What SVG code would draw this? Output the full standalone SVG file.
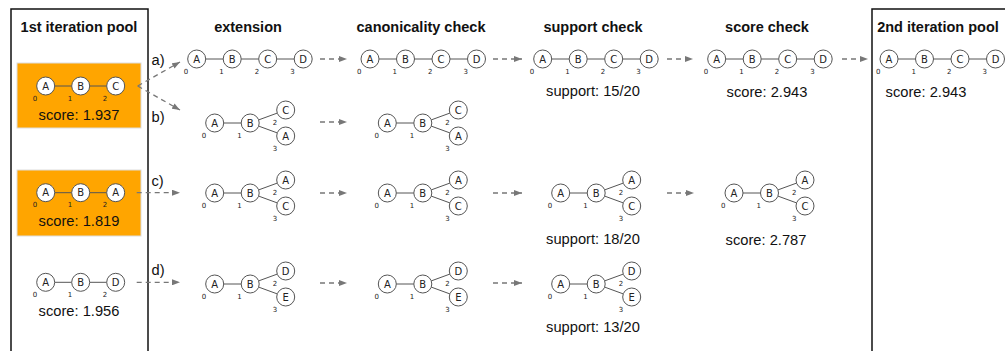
<svg xmlns="http://www.w3.org/2000/svg" width="1005" height="351" viewBox="0 0 1005 351">
<style>
.n{fill:#fff;stroke:#555;stroke-width:1}
.e{stroke:#555;stroke-width:1;fill:none}
.l{font-family:"DejaVu Sans",sans-serif;font-size:10px;fill:#222;text-anchor:middle}
.i{font-family:"DejaVu Sans",sans-serif;font-size:7px;fill:#222;text-anchor:middle}
.h{font-family:"Liberation Sans",Arial,sans-serif;font-size:14.5px;font-weight:bold;fill:#111;text-anchor:middle}
.t{font-family:"Liberation Sans",Arial,sans-serif;font-size:14.7px;fill:#111;text-anchor:middle}
.s{font-family:"Liberation Sans",Arial,sans-serif;font-size:14.7px;fill:#111}
.a{stroke:#777;stroke-width:1.3;stroke-dasharray:5 4;fill:none;marker-end:url(#ah)}
.pool{fill:none;stroke:#111;stroke-width:1.5}
.or{fill:#FFA500;stroke:#ddd;stroke-width:1}
</style>
<defs>
<marker id="ah" markerUnits="userSpaceOnUse" viewBox="0 0 8 6" refX="8" refY="3" markerWidth="8" markerHeight="6" orient="auto">
<path d="M0,0 L8,3 L0,6 z" fill="#777"/>
</marker>
</defs>

<g id="pool1box">
<rect class="pool" x="11" y="9" width="137" height="360"/>
<text class="h" x="79" y="32">1st iteration pool</text>
</g>
<g id="pool2box">
<rect class="pool" x="872" y="9" width="150" height="360"/>
<text class="h" x="938" y="32">2nd iteration pool</text>
</g>

<g id="headers">
<text class="h" x="248" y="32">extension</text>
<text class="h" x="421" y="32">canonicality check</text>
<text class="h" x="593" y="32">support check</text>
<text class="h" x="767" y="32">score check</text>
</g>

<g id="p1">
<rect class="or" x="17" y="63" width="124" height="65"/>
<g transform="translate(45.7,86)">
<line class="e" x1="9" y1="0" x2="26" y2="0"/><line class="e" x1="44" y1="0" x2="61" y2="0"/>
<circle class="n" cx="0" cy="0" r="9"/><circle class="n" cx="35" cy="0" r="9"/><circle class="n" cx="70" cy="0" r="9"/>
<text class="l" x="0" y="3.6">A</text><text class="l" x="35" y="3.6">B</text><text class="l" x="70" y="3.6">C</text>
<text class="i" x="-10.7" y="14.5">0</text><text class="i" x="24.3" y="14.5">1</text><text class="i" x="59.3" y="14.5">2</text>
</g>
<text class="t" x="79" y="119.5">score: 1.937</text>
</g>

<g id="p2">
<rect class="or" x="17" y="170" width="124" height="66"/>
<g transform="translate(45.7,192.7)">
<line class="e" x1="9" y1="0" x2="26" y2="0"/><line class="e" x1="44" y1="0" x2="61" y2="0"/>
<circle class="n" cx="0" cy="0" r="9"/><circle class="n" cx="35" cy="0" r="9"/><circle class="n" cx="70" cy="0" r="9"/>
<text class="l" x="0" y="3.6">A</text><text class="l" x="35" y="3.6">B</text><text class="l" x="70" y="3.6">A</text>
<text class="i" x="-10.7" y="14.5">0</text><text class="i" x="24.3" y="14.5">1</text><text class="i" x="59.3" y="14.5">2</text>
</g>
<text class="t" x="79" y="226">score: 1.819</text>
</g>

<g id="p3">
<g transform="translate(45.7,282.3)">
<line class="e" x1="9" y1="0" x2="26" y2="0"/><line class="e" x1="44" y1="0" x2="61" y2="0"/>
<circle class="n" cx="0" cy="0" r="9"/><circle class="n" cx="35" cy="0" r="9"/><circle class="n" cx="70" cy="0" r="9"/>
<text class="l" x="0" y="3.6">A</text><text class="l" x="35" y="3.6">B</text><text class="l" x="70" y="3.6">D</text>
<text class="i" x="-10.7" y="14.5">0</text><text class="i" x="24.3" y="14.5">1</text><text class="i" x="59.3" y="14.5">2</text>
</g>
<text class="t" x="79" y="316">score: 1.956</text>
</g>

<!-- row a linear graphs -->
<g id="a_ext" transform="translate(196.7,59)">
<line class="e" x1="9" y1="0" x2="26.5" y2="0"/><line class="e" x1="44.5" y1="0" x2="62" y2="0"/><line class="e" x1="80" y1="0" x2="97.5" y2="0"/>
<circle class="n" cx="0" cy="0" r="9"/><circle class="n" cx="35.5" cy="0" r="9"/><circle class="n" cx="71" cy="0" r="9"/><circle class="n" cx="106.5" cy="0" r="9"/>
<text class="l" x="0" y="3.6">A</text><text class="l" x="35.5" y="3.6">B</text><text class="l" x="71" y="3.6">C</text><text class="l" x="106.5" y="3.6">D</text>
<text class="i" x="-10.7" y="14.5">0</text><text class="i" x="24.8" y="14.5">1</text><text class="i" x="60.3" y="14.5">2</text><text class="i" x="95.8" y="14.5">3</text>
</g>
<g id="a_can" transform="translate(370,59)">
<line class="e" x1="9" y1="0" x2="26.5" y2="0"/><line class="e" x1="44.5" y1="0" x2="62" y2="0"/><line class="e" x1="80" y1="0" x2="97.5" y2="0"/>
<circle class="n" cx="0" cy="0" r="9"/><circle class="n" cx="35.5" cy="0" r="9"/><circle class="n" cx="71" cy="0" r="9"/><circle class="n" cx="106.5" cy="0" r="9"/>
<text class="l" x="0" y="3.6">A</text><text class="l" x="35.5" y="3.6">B</text><text class="l" x="71" y="3.6">C</text><text class="l" x="106.5" y="3.6">D</text>
<text class="i" x="-10.7" y="14.5">0</text><text class="i" x="24.8" y="14.5">1</text><text class="i" x="60.3" y="14.5">2</text><text class="i" x="95.8" y="14.5">3</text>
</g>
<g id="a_sup" transform="translate(542.7,59)">
<line class="e" x1="9" y1="0" x2="26.5" y2="0"/><line class="e" x1="44.5" y1="0" x2="62" y2="0"/><line class="e" x1="80" y1="0" x2="97.5" y2="0"/>
<circle class="n" cx="0" cy="0" r="9"/><circle class="n" cx="35.5" cy="0" r="9"/><circle class="n" cx="71" cy="0" r="9"/><circle class="n" cx="106.5" cy="0" r="9"/>
<text class="l" x="0" y="3.6">A</text><text class="l" x="35.5" y="3.6">B</text><text class="l" x="71" y="3.6">C</text><text class="l" x="106.5" y="3.6">D</text>
<text class="i" x="-10.7" y="14.5">0</text><text class="i" x="24.8" y="14.5">1</text><text class="i" x="60.3" y="14.5">2</text><text class="i" x="95.8" y="14.5">3</text>
</g>
<text class="t" x="593" y="96">support: 15/20</text>
<g id="a_sco" transform="translate(716.7,59)">
<line class="e" x1="9" y1="0" x2="26.5" y2="0"/><line class="e" x1="44.5" y1="0" x2="62" y2="0"/><line class="e" x1="80" y1="0" x2="97.5" y2="0"/>
<circle class="n" cx="0" cy="0" r="9"/><circle class="n" cx="35.5" cy="0" r="9"/><circle class="n" cx="71" cy="0" r="9"/><circle class="n" cx="106.5" cy="0" r="9"/>
<text class="l" x="0" y="3.6">A</text><text class="l" x="35.5" y="3.6">B</text><text class="l" x="71" y="3.6">C</text><text class="l" x="106.5" y="3.6">D</text>
<text class="i" x="-10.7" y="14.5">0</text><text class="i" x="24.8" y="14.5">1</text><text class="i" x="60.3" y="14.5">2</text><text class="i" x="95.8" y="14.5">3</text>
</g>
<text class="t" x="767" y="96.5">score: 2.943</text>
<g id="pool2g" transform="translate(889,59)">
<line class="e" x1="9" y1="0" x2="26.5" y2="0"/><line class="e" x1="44.5" y1="0" x2="62" y2="0"/><line class="e" x1="80" y1="0" x2="97.5" y2="0"/>
<circle class="n" cx="0" cy="0" r="9"/><circle class="n" cx="35.5" cy="0" r="9"/><circle class="n" cx="71" cy="0" r="9"/><circle class="n" cx="106.5" cy="0" r="9"/>
<text class="l" x="0" y="3.6">A</text><text class="l" x="35.5" y="3.6">B</text><text class="l" x="71" y="3.6">C</text><text class="l" x="106.5" y="3.6">D</text>
<text class="i" x="-10.7" y="14.5">0</text><text class="i" x="24.8" y="14.5">1</text><text class="i" x="60.3" y="14.5">2</text><text class="i" x="95.8" y="14.5">3</text>
</g>
<text class="t" x="926" y="96.5">score: 2.943</text>

<!-- row b -->
<g id="b_ext" transform="translate(214.7,123)">
<line class="e" x1="9" y1="0" x2="26.5" y2="0"/><line class="e" x1="43.95" y1="-3.1" x2="62.55" y2="-9.9"/><line class="e" x1="43.95" y1="3.1" x2="62.55" y2="9.9"/>
<circle class="n" cx="0" cy="0" r="9"/><circle class="n" cx="35.5" cy="0" r="9"/><circle class="n" cx="71" cy="-13" r="9"/><circle class="n" cx="71" cy="13" r="9"/>
<text class="l" x="0" y="3.6">A</text><text class="l" x="35.5" y="3.6">B</text><text class="l" x="71" y="-9.4">C</text><text class="l" x="71" y="16.6">A</text>
<text class="i" x="-10.7" y="14.5">0</text><text class="i" x="24.8" y="14.5">1</text><text class="i" x="60.3" y="1.5">2</text><text class="i" x="60.3" y="27.5">3</text>
</g>
<g id="b_can" transform="translate(387.3,123)">
<line class="e" x1="9" y1="0" x2="26.5" y2="0"/><line class="e" x1="43.95" y1="-3.1" x2="62.55" y2="-9.9"/><line class="e" x1="43.95" y1="3.1" x2="62.55" y2="9.9"/>
<circle class="n" cx="0" cy="0" r="9"/><circle class="n" cx="35.5" cy="0" r="9"/><circle class="n" cx="71" cy="-13" r="9"/><circle class="n" cx="71" cy="13" r="9"/>
<text class="l" x="0" y="3.6">A</text><text class="l" x="35.5" y="3.6">B</text><text class="l" x="71" y="-9.4">C</text><text class="l" x="71" y="16.6">A</text>
<text class="i" x="-10.7" y="14.5">0</text><text class="i" x="24.8" y="14.5">1</text><text class="i" x="60.3" y="1.5">2</text><text class="i" x="60.3" y="27.5">3</text>
</g>

<!-- row c -->
<g id="c_ext" transform="translate(214.7,193)">
<line class="e" x1="9" y1="0" x2="26.5" y2="0"/><line class="e" x1="43.95" y1="-3.1" x2="62.55" y2="-9.9"/><line class="e" x1="43.95" y1="3.1" x2="62.55" y2="9.9"/>
<circle class="n" cx="0" cy="0" r="9"/><circle class="n" cx="35.5" cy="0" r="9"/><circle class="n" cx="71" cy="-13" r="9"/><circle class="n" cx="71" cy="13" r="9"/>
<text class="l" x="0" y="3.6">A</text><text class="l" x="35.5" y="3.6">B</text><text class="l" x="71" y="-9.4">A</text><text class="l" x="71" y="16.6">C</text>
<text class="i" x="-10.7" y="14.5">0</text><text class="i" x="24.8" y="14.5">1</text><text class="i" x="60.3" y="1.5">2</text><text class="i" x="60.3" y="27.5">3</text>
</g>
<g id="c_can" transform="translate(387.3,193)">
<line class="e" x1="9" y1="0" x2="26.5" y2="0"/><line class="e" x1="43.95" y1="-3.1" x2="62.55" y2="-9.9"/><line class="e" x1="43.95" y1="3.1" x2="62.55" y2="9.9"/>
<circle class="n" cx="0" cy="0" r="9"/><circle class="n" cx="35.5" cy="0" r="9"/><circle class="n" cx="71" cy="-13" r="9"/><circle class="n" cx="71" cy="13" r="9"/>
<text class="l" x="0" y="3.6">A</text><text class="l" x="35.5" y="3.6">B</text><text class="l" x="71" y="-9.4">A</text><text class="l" x="71" y="16.6">C</text>
<text class="i" x="-10.7" y="14.5">0</text><text class="i" x="24.8" y="14.5">1</text><text class="i" x="60.3" y="1.5">2</text><text class="i" x="60.3" y="27.5">3</text>
</g>
<g id="c_sup" transform="translate(560.7,193)">
<line class="e" x1="9" y1="0" x2="26.5" y2="0"/><line class="e" x1="43.95" y1="-3.1" x2="62.55" y2="-9.9"/><line class="e" x1="43.95" y1="3.1" x2="62.55" y2="9.9"/>
<circle class="n" cx="0" cy="0" r="9"/><circle class="n" cx="35.5" cy="0" r="9"/><circle class="n" cx="71" cy="-13" r="9"/><circle class="n" cx="71" cy="13" r="9"/>
<text class="l" x="0" y="3.6">A</text><text class="l" x="35.5" y="3.6">B</text><text class="l" x="71" y="-9.4">A</text><text class="l" x="71" y="16.6">C</text>
<text class="i" x="-10.7" y="14.5">0</text><text class="i" x="24.8" y="14.5">1</text><text class="i" x="60.3" y="1.5">2</text><text class="i" x="60.3" y="27.5">3</text>
</g>
<text class="t" x="593" y="244">support: 18/20</text>
<g id="c_sco" transform="translate(734,193)">
<line class="e" x1="9" y1="0" x2="26.5" y2="0"/><line class="e" x1="43.95" y1="-3.1" x2="62.55" y2="-9.9"/><line class="e" x1="43.95" y1="3.1" x2="62.55" y2="9.9"/>
<circle class="n" cx="0" cy="0" r="9"/><circle class="n" cx="35.5" cy="0" r="9"/><circle class="n" cx="71" cy="-13" r="9"/><circle class="n" cx="71" cy="13" r="9"/>
<text class="l" x="0" y="3.6">A</text><text class="l" x="35.5" y="3.6">B</text><text class="l" x="71" y="-9.4">A</text><text class="l" x="71" y="16.6">C</text>
<text class="i" x="-10.7" y="14.5">0</text><text class="i" x="24.8" y="14.5">1</text><text class="i" x="60.3" y="1.5">2</text><text class="i" x="60.3" y="27.5">3</text>
</g>
<text class="t" x="766" y="245">score: 2.787</text>

<!-- row d -->
<g id="d_ext" transform="translate(214.7,284)">
<line class="e" x1="9" y1="0" x2="26.5" y2="0"/><line class="e" x1="43.95" y1="-3.1" x2="62.55" y2="-9.9"/><line class="e" x1="43.95" y1="3.1" x2="62.55" y2="9.9"/>
<circle class="n" cx="0" cy="0" r="9"/><circle class="n" cx="35.5" cy="0" r="9"/><circle class="n" cx="71" cy="-13" r="9"/><circle class="n" cx="71" cy="13" r="9"/>
<text class="l" x="0" y="3.6">A</text><text class="l" x="35.5" y="3.6">B</text><text class="l" x="71" y="-9.4">D</text><text class="l" x="71" y="16.6">E</text>
<text class="i" x="-10.7" y="14.5">0</text><text class="i" x="24.8" y="14.5">1</text><text class="i" x="60.3" y="1.5">2</text><text class="i" x="60.3" y="27.5">3</text>
</g>
<g id="d_can" transform="translate(387.3,284)">
<line class="e" x1="9" y1="0" x2="26.5" y2="0"/><line class="e" x1="43.95" y1="-3.1" x2="62.55" y2="-9.9"/><line class="e" x1="43.95" y1="3.1" x2="62.55" y2="9.9"/>
<circle class="n" cx="0" cy="0" r="9"/><circle class="n" cx="35.5" cy="0" r="9"/><circle class="n" cx="71" cy="-13" r="9"/><circle class="n" cx="71" cy="13" r="9"/>
<text class="l" x="0" y="3.6">A</text><text class="l" x="35.5" y="3.6">B</text><text class="l" x="71" y="-9.4">D</text><text class="l" x="71" y="16.6">E</text>
<text class="i" x="-10.7" y="14.5">0</text><text class="i" x="24.8" y="14.5">1</text><text class="i" x="60.3" y="1.5">2</text><text class="i" x="60.3" y="27.5">3</text>
</g>
<g id="d_sup" transform="translate(560.7,284)">
<line class="e" x1="9" y1="0" x2="26.5" y2="0"/><line class="e" x1="43.95" y1="-3.1" x2="62.55" y2="-9.9"/><line class="e" x1="43.95" y1="3.1" x2="62.55" y2="9.9"/>
<circle class="n" cx="0" cy="0" r="9"/><circle class="n" cx="35.5" cy="0" r="9"/><circle class="n" cx="71" cy="-13" r="9"/><circle class="n" cx="71" cy="13" r="9"/>
<text class="l" x="0" y="3.6">A</text><text class="l" x="35.5" y="3.6">B</text><text class="l" x="71" y="-9.4">D</text><text class="l" x="71" y="16.6">E</text>
<text class="i" x="-10.7" y="14.5">0</text><text class="i" x="24.8" y="14.5">1</text><text class="i" x="60.3" y="1.5">2</text><text class="i" x="60.3" y="27.5">3</text>
</g>
<text class="t" x="593" y="331.5">support: 13/20</text>

<g id="connectors">
<line class="a" x1="137.7" y1="86" x2="180" y2="62"/>
<line class="a" x1="137.7" y1="86" x2="180" y2="110"/>
<line class="a" x1="136.7" y1="192.7" x2="180" y2="192.7"/>
<line class="a" x1="136.7" y1="282.3" x2="180" y2="282.3"/>
<line class="a" x1="320" y1="59" x2="347" y2="59"/>
<line class="a" x1="493" y1="59" x2="522" y2="59"/>
<line class="a" x1="667" y1="59" x2="693" y2="59"/>
<line class="a" x1="842" y1="59" x2="868" y2="59"/>
<line class="a" x1="320" y1="122" x2="347" y2="122"/>
<line class="a" x1="320" y1="193" x2="347" y2="193"/>
<line class="a" x1="493" y1="193" x2="522" y2="193"/>
<line class="a" x1="667" y1="193" x2="694" y2="193"/>
<line class="a" x1="320" y1="283" x2="347" y2="283"/>
<line class="a" x1="493" y1="283" x2="522" y2="283"/>
<text class="s" x="151.5" y="64.5">a)</text>
<text class="s" x="151.5" y="122">b)</text>
<text class="s" x="151.5" y="186">c)</text>
<text class="s" x="151.5" y="275">d)</text>
</g>
</svg>
